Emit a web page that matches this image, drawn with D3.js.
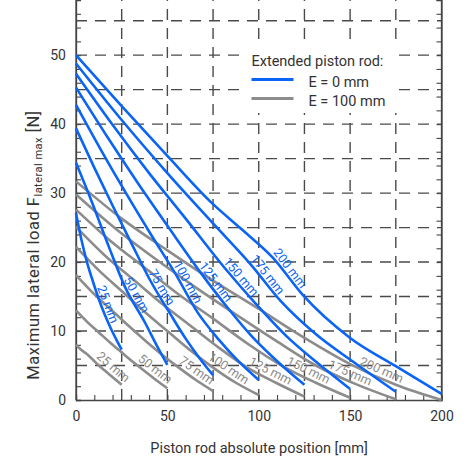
<!DOCTYPE html>
<html><head><meta charset="utf-8">
<script src="https://cdn.jsdelivr.net/npm/d3@7"></script>
<style>
body{margin:0;background:#fff}
svg{display:block}
text{font-family:Roboto,"Noto Sans",sans-serif}
</style>
</head><body>
<svg id="chart" width="468" height="460"></svg>
<script>
// ---------------- data ----------------
const strokes = [25, 50, 75, 100, 125, 150, 175, 200];
const strokeLabels = ["25 mm", "50 mm", "75 mm", "100 mm", "125 mm", "150 mm", "175 mm", "200 mm"];

// E = 0 mm (blue): positions [mm] and max lateral load [N]
const e0Positions = [
  [0, 3, 6, 9, 12.5, 16, 19, 22, 25],
  [0, 9, 18, 26.8, 37.8, 44, 50],
  [0, 10, 20, 30, 40.5, 52, 60, 67.5, 75],
  [0, 14, 28, 41, 54.2, 66.8, 78, 89, 100],
  [0, 17, 34, 51, 68.4, 83.2, 97, 111, 125],
  [0, 20, 40, 60, 81.5, 97.9, 115, 132, 150],
  [0, 25, 50, 75, 95.8, 112.2, 131, 153, 175],
  [0, 25, 50, 75, 90, 107.8, 124.2, 150, 175, 200]
];
const e0Values = [
  [27.1, 23.2, 20.0, 17.4, 14.6, 12.2, 10.4, 8.8, 7.3],
  [34.4, 28.5, 22.2, 16.4, 11.2, 8.0, 5.1],
  [39.4, 33.7, 28.2, 22.9, 17.4, 12.3, 8.9, 6.1, 3.6],
  [42.8, 36.1, 29.7, 24.0, 18.4, 12.6, 8.8, 5.6, 2.9],
  [45.3, 38.2, 31.4, 24.9, 18.4, 13.3, 9.0, 5.4, 2.2],
  [47.3, 39.9, 32.9, 26.3, 19.1, 14.1, 9.3, 5.4, 1.6],
  [48.8, 40.6, 32.9, 25.6, 19.6, 14.3, 9.6, 5.3, 1.2],
  [50.0, 42.6, 35.4, 28.4, 24.9, 20.6, 15.2, 9.0, 4.9, 0.9]
];

// E = 100 mm (gray): sampled at these fractions of each stroke
const sampleFractions = [0, 0.125, 0.25, 0.375, 0.5, 0.625, 0.75, 0.875, 1];
const e100Values = [
  [8.0, 7.2, 6.6, 5.8, 5.0, 4.3, 3.6, 2.9, 2.2],
  [13.0, 11.3, 9.8, 8.3, 6.9, 5.5, 4.2, 2.9, 1.7],
  [18.1, 15.5, 13.2, 10.9, 8.7, 6.6, 4.7, 2.9, 1.3],
  [22.2, 18.8, 15.8, 12.8, 10.0, 7.2, 4.7, 2.5, 0.72],
  [25.1, 21.0, 17.5, 14.0, 10.8, 7.6, 4.7, 2.5, 0.5],
  [27.6, 23.1, 19.2, 15.3, 11.8, 8.2, 5.0, 2.5, 0.33],
  [29.8, 24.8, 20.4, 16.3, 12.4, 8.6, 5.0, 2.3, 0.1],
  [31.7, 26.3, 21.7, 17.3, 13.2, 9.0, 5.2, 2.2, 0.0]
];
const xTickValues = [0, 50, 100, 150, 200];
const yTickValues = [0, 10, 20, 30, 40, 50];
const legendTitle = "Extended piston rod:";
const legendLabels = ["E = 0 mm", "E = 100 mm"];

// ---------------- layout / style ----------------
const blueLabelAt = [14.0, 29.9, 43.8, 58, 73.6, 87.5, 102, 114.3];          // mm along curve
const grayLabelFrac = [0.70, 0.81, 0.845, 0.81, 0.835, 0.835, 0.847, 0.827];  // fraction of stroke
const BLUE = "#0a64f5", GRAY = "#8c8c8c", GRID = "#4a4a4a", AXIS = "#444", TXT = "#333";

const svg = d3.select("#chart");
const x = d3.scaleLinear().domain([0, 200]).range([76, 441.5]);
const y = d3.scaleLinear().domain([0, 58]).range([400, 0]);

// grid
const grid = svg.append("g").attr("stroke", GRID).attr("stroke-width", 1.4).attr("stroke-dasharray", "11,8");
grid.selectAll("line.v").data(d3.range(25, 200, 25)).join("line")
  .attr("x1", d => x(d)).attr("x2", d => x(d)).attr("y1", y(0)).attr("y2", y(58));
grid.selectAll("line.h").data(d3.range(5, 58, 5)).join("line")
  .attr("y1", d => y(d)).attr("y2", d => y(d)).attr("x1", x(0)).attr("x2", x(200));

// legend background
svg.append("rect").attr("x", 246).attr("y", 45).attr("width", 152).attr("height", 68).attr("fill", "#fff");

// minor ticks (inward)
const yMinor = d3.range(0, 59, 2), xMinor = d3.range(0, 201, 10);
const axL = svg.append("g").attr("transform", `translate(${x(0)},0)`)
  .call(d3.axisLeft(y).tickValues(yMinor).tickSize(-5).tickFormat(""));
const axR = svg.append("g").attr("transform", `translate(${x(200)},0)`)
  .call(d3.axisRight(y).tickValues(yMinor).tickSize(-5).tickFormat(""));
const axB = svg.append("g").attr("transform", `translate(0,${y(0)})`)
  .call(d3.axisBottom(x).tickValues(xMinor).tickSize(-5).tickFormat(""));
[axL, axR, axB].forEach(a => { a.selectAll("path").attr("stroke", AXIS).attr("stroke-width", 1.3); a.selectAll("line").attr("stroke", AXIS).attr("stroke-width", 1.1); });
svg.append("line").attr("x1", x(0)).attr("x2", x(0)).attr("y1", 0).attr("y2", y(0)).attr("stroke", AXIS).attr("stroke-width", 1.3);
svg.append("line").attr("x1", x(200)).attr("x2", x(200)).attr("y1", 0).attr("y2", y(0)).attr("stroke", AXIS).attr("stroke-width", 1.3);

// tick labels
const lx = svg.append("g").attr("transform", `translate(0,${y(0)})`)
  .call(d3.axisBottom(x).tickValues(xTickValues).tickSize(0).tickPadding(11));
const ly = svg.append("g").attr("transform", `translate(${x(0)},0)`)
  .call(d3.axisLeft(y).tickValues(yTickValues).tickSize(0).tickPadding(10));
[lx, ly].forEach(a => { a.select("path").remove(); a.selectAll("text").attr("font-size", 14).attr("fill", TXT).attr("font-family", "Roboto"); });

// curves
const line = d3.line().x(d => x(d[0])).y(d => y(d[1])).curve(d3.curveMonotoneX);

function drawCurve(g, data, color, labelX, label, offset) {
  const p = g.append("path").datum(data).attr("d", line)
    .attr("fill", "none").attr("stroke", color).attr("stroke-width", 2.6).attr("stroke-linejoin", "round");
  const node = p.node(), len = node.getTotalLength();
  const tx = x(labelX);
  let lo = 0, hi = len;
  for (let i = 0; i < 40; i++) { const m = (lo + hi) / 2; if (node.getPointAtLength(m).x < tx) lo = m; else hi = m; }
  const s = (lo + hi) / 2;
  const a = node.getPointAtLength(Math.max(0, s - 6)), b = node.getPointAtLength(Math.min(len, s + 6));
  const c = node.getPointAtLength(s);
  const dx = b.x - a.x, dy = b.y - a.y, n = Math.hypot(dx, dy);
  const ang = Math.atan2(dy, dx) * 180 / Math.PI;
  const cx = c.x + dy / n * offset, cy = c.y - dx / n * offset;
  g.append("text").text(label)
    .attr("transform", `translate(${cx},${cy}) rotate(${ang})`)
    .attr("text-anchor", "middle").attr("dominant-baseline", "central")
    .attr("font-size", 12.5).attr("fill", color);
}
const gGray = svg.append("g"), gBlue = svg.append("g");
strokes.forEach((L, k) => {
  const data = e100Values[k].map((v, i) => [L * sampleFractions[i], v]);
  drawCurve(gGray, data, GRAY, L * grayLabelFrac[k], strokeLabels[k], 8.5);
});
strokes.forEach((L, k) => {
  const data = e0Values[k].map((v, i) => [e0Positions[k][i], v]);
  drawCurve(gBlue, data, BLUE, blueLabelAt[k], strokeLabels[k], 7);
});

// legend
const lg = svg.append("g");
lg.append("text").attr("x", 251.5).attr("y", 66).attr("font-size", 14.5).attr("fill", TXT).text(legendTitle);
[BLUE, GRAY].forEach((c, i) => {
  lg.append("line").attr("x1", 251.5).attr("x2", 293.5).attr("y1", 79.5 + i * 19).attr("y2", 79.5 + i * 19)
    .attr("stroke", c).attr("stroke-width", 2.8);
  lg.append("text").attr("x", 308.5).attr("y", 86.5 + i * 19.5).attr("font-size", 14.5).attr("fill", TXT).text(legendLabels[i]);
});

// axis titles
svg.append("text").attr("x", 259).attr("y", 453).attr("text-anchor", "middle")
  .attr("font-size", 14.5).attr("fill", TXT).text("Piston rod absolute position [mm]");
const yt = svg.append("text").attr("transform", "translate(39,245) rotate(-90)")
  .attr("text-anchor", "middle").attr("font-size", 16.5).attr("letter-spacing", 0.5).attr("fill", TXT);
yt.append("tspan").text("Maximum lateral load F");
yt.append("tspan").attr("font-size", 11).attr("dy", 3).text("lateral max");
yt.append("tspan").attr("dy", -3).text(" [N]");
</script>
</body></html>
